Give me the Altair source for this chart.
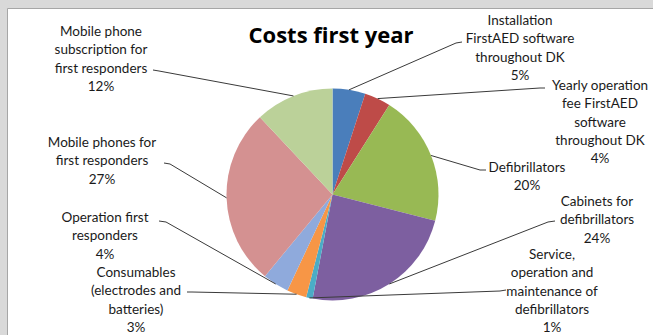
import altair as alt
import pandas as pd

# ---------------- data ----------------
categories = [
    "Installation FirstAED software throughout DK",
    "Yearly operation fee FirstAED software throughout DK",
    "Defibrillators",
    "Cabinets for defibrillators",
    "Service, operation and maintenance of defibrillators",
    "Consumables (electrodes and batteries)",
    "Operation first responders",
    "Mobile phones for first responders",
    "Mobile phone subscription for first responders",
]
label_lines = [
    ["Installation", "FirstAED software", "throughout DK"],
    ["Yearly operation", "fee FirstAED", "software", "throughout DK"],
    ["Defibrillators"],
    ["Cabinets for", "defibrillators"],
    ["Service,", "operation and", "maintenance of", "defibrillators"],
    ["Consumables", "(electrodes and", "batteries)"],
    ["Operation first", "responders"],
    ["Mobile phones for", "first responders"],
    ["Mobile phone", "subscription for", "first responders"],
]
percent = [5, 4, 20, 24, 1, 3, 4, 27, 12]

# ---------------- styles / layout ----------------
colors = ["#4A7EBB", "#BE4B48", "#98B954", "#7D5FA0", "#4BACC6",
          "#F79646", "#8FAADC", "#D49191", "#BBD199"]

W, H = 653, 335
PAD_L, PAD_T = 7, 8
CX, CY, R = 332.5, 194.5, 106
FONT = "Lato"
FS = 13.5
LH = 18.3

# label layout in page pixels: text centre x, first line centre y,
# leader anchor (x, y) at the text, elbow (x, y)
lab_x = [520, 600, 527, 597, 552, 136, 105, 102, 101]
lab_y = [20, 85, 167, 201, 254, 272, 217, 142, 31]
anc_x = [462, 545, 486, 555, 506, 187, 159, 164, 153]
anc_y = [42, 88, 170, 221, 290, 292, 221, 163, 70]
elb_x = [456, 540, 480, 548, 500, 192, 166, 170, 159]
elb_y = [43, 88, 170, 222, 291, 292, 222, 164, 71]

rows = []
for i, c in enumerate(categories):
    rows.append({
        "idx": i,
        "cat": c,
        "value": percent[i],
        "label": "\n".join(label_lines[i] + [f"{percent[i]}%"]),
        "lx": lab_x[i] - PAD_L,
        "ly": lab_y[i] - PAD_T - 0.44 * FS,
        "ax": anc_x[i] - PAD_L,
        "ay": anc_y[i] - PAD_T,
        "ex": elb_x[i] - PAD_L,
        "ey": elb_y[i] - PAD_T,
    })
df = pd.DataFrame(rows)

cx, cy = CX - PAD_L, CY - PAD_T
base = alt.Chart(df)

pie = base.mark_arc(radius=R).encode(
    theta=alt.Theta("value:Q", stack=True),
    order=alt.Order("idx:Q"),
    color=alt.Color("cat:N", scale=alt.Scale(domain=categories, range=colors), legend=None),
    x=alt.value(cx),
    y=alt.value(cy),
)

geo = base.transform_window(
    cum="sum(value)", sort=[alt.SortField("idx")], frame=[None, 0]
).transform_joinaggregate(
    total="sum(value)"
).transform_calculate(
    mid="2*PI*(datum.cum - datum.value/2)/datum.total"
).transform_calculate(
    px=f"{cx} + {R}*sin(datum.mid)",
    py=f"{cy} - {R}*cos(datum.mid)",
)

lead1 = base.mark_rule(color="#3a3a3a", strokeWidth=1).encode(
    x=alt.X("ax:Q", scale=None, axis=None),
    y=alt.Y("ay:Q", scale=None, axis=None),
    x2="ex:Q",
    y2="ey:Q",
)
lead2 = geo.mark_rule(color="#3a3a3a", strokeWidth=1).encode(
    x=alt.X("ex:Q", scale=None, axis=None),
    y=alt.Y("ey:Q", scale=None, axis=None),
    x2="px:Q",
    y2="py:Q",
)

labels = base.mark_text(
    font=FONT, fontSize=FS, color="#1a1a1a", align="center", baseline="top",
    lineBreak="\n", lineHeight=LH,
).encode(
    x=alt.X("lx:Q", scale=None, axis=None),
    y=alt.Y("ly:Q", scale=None, axis=None),
    text="label:N",
)

chart = alt.layer(pie, lead1, lead2, labels).properties(
    width=W - PAD_L,
    height=H - PAD_T,
    autosize="none",
    padding={"left": PAD_L, "top": PAD_T, "right": 0, "bottom": 0},
    background="#D9D9D9",
    title=alt.TitleParams(
        "Costs first year", font="Open Sans", fontSize=22, fontWeight="bold",
        color="#000000", anchor="middle", dy=44, dx=1,
    ),
).configure_view(fill="white", stroke="#A6A6A6")

chart.save("out.html", embed_options={"renderer": "svg", "actions": False})
